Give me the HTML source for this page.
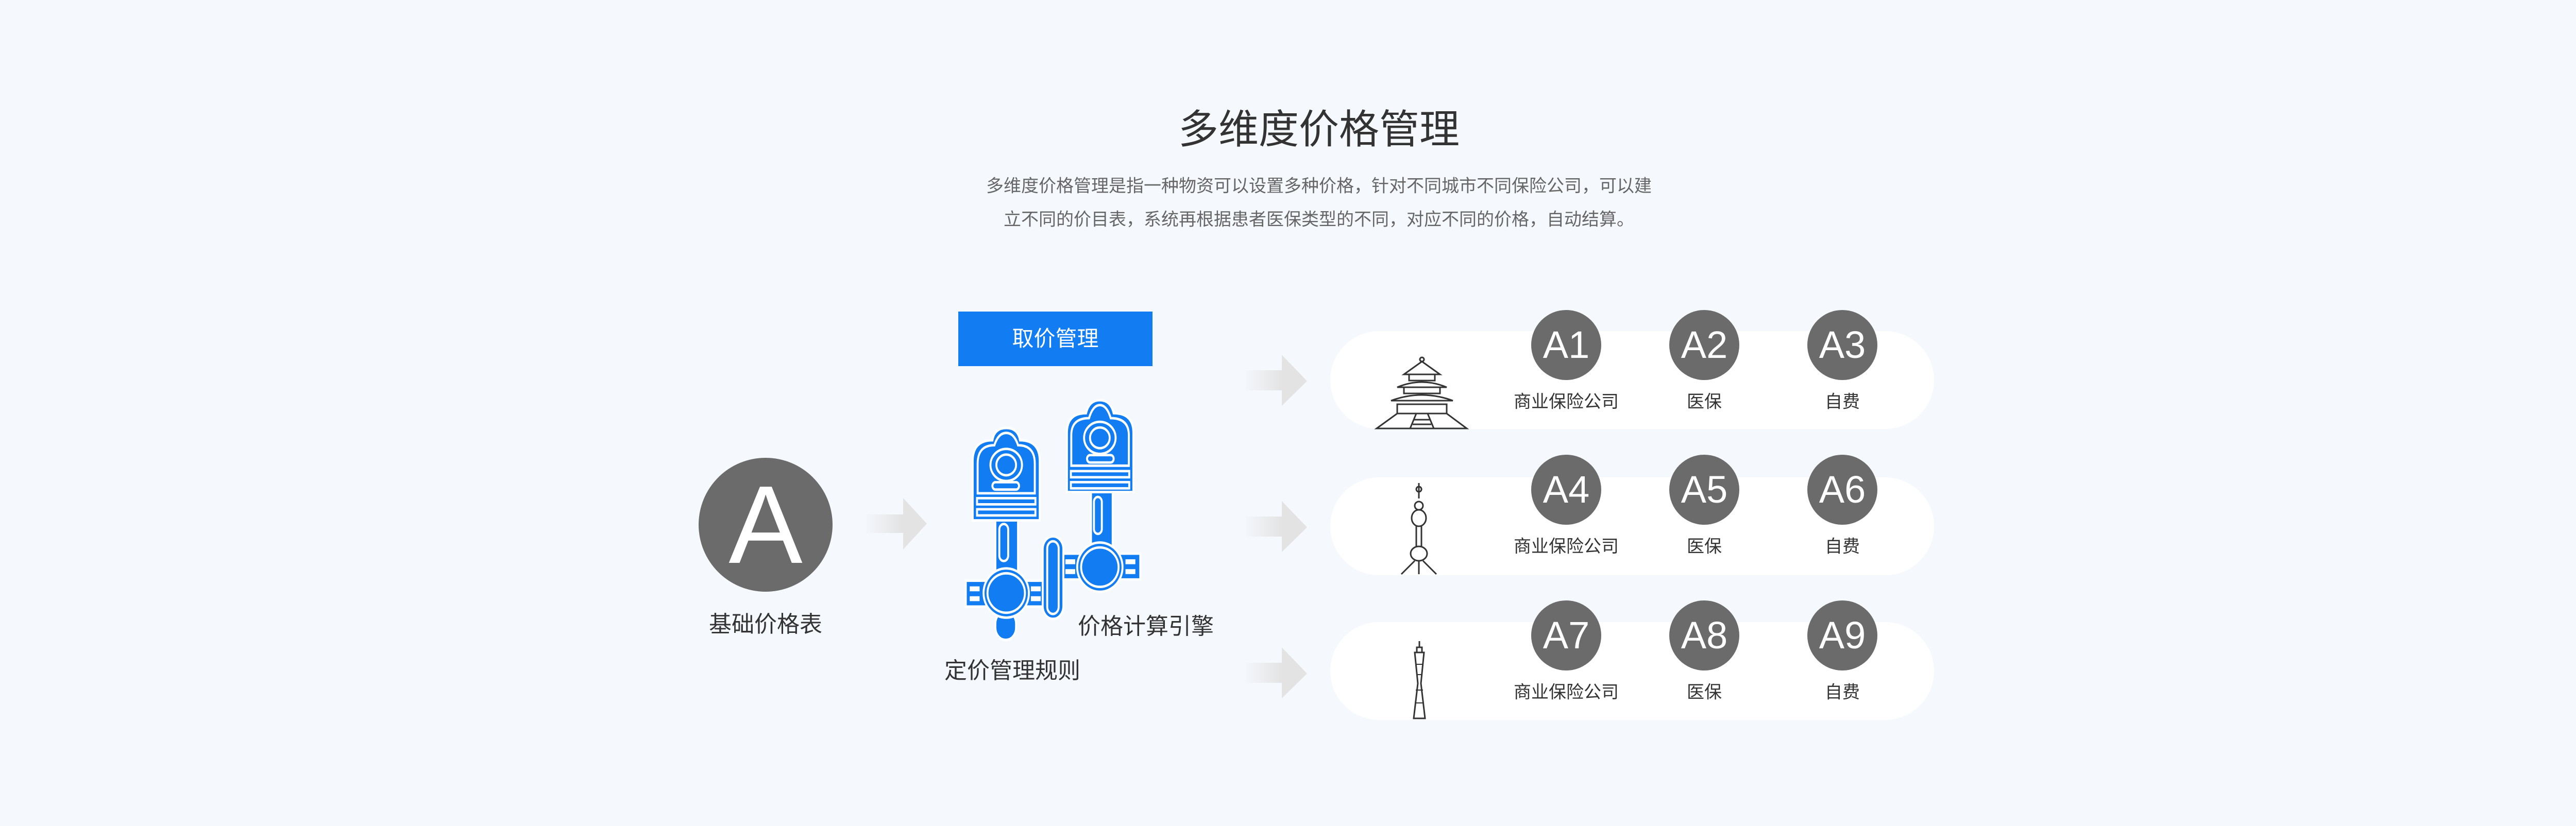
<!DOCTYPE html>
<html><head><meta charset="utf-8"><style>
*{margin:0;padding:0;box-sizing:border-box}
body{width:5120px;height:1604px;background:#f5f9fe;position:relative;overflow:hidden;font-family:"Liberation Sans","Noto Sans CJK SC",sans-serif;color:#333}
.abs{position:absolute}
.t{white-space:nowrap;transform:translate(-50%,-50%)}
.pill{position:absolute;left:2582px;width:1172px;height:190px;border-radius:95px;background:#fff}
.c{position:absolute;width:136px;height:136px;border-radius:50%;background:#6b6b6b;color:#fff;font-size:74px;text-align:center;line-height:136px;font-weight:300}
.lb{position:absolute;font-size:34px;color:#333;white-space:nowrap;transform:translate(-50%,-50%)}
.arr{position:absolute;width:122px;height:100px}
</style></head><body>
<div class="abs t" style="left:2560px;top:245px;font-size:78px;color:#333">多维度价格管理</div>
<div class="abs t" style="left:2560px;top:358px;font-size:34px;color:#666">多维度价格管理是指一种物资可以设置多种价格，针对不同城市不同保险公司，可以建</div>
<div class="abs t" style="left:2560px;top:423px;font-size:34px;color:#666">立不同的价目表，系统再根据患者医保类型的不同，对应不同的价格，自动结算。</div>

<div class="abs" style="left:1860px;top:605px;width:377px;height:106px;background:#127cf2;color:#fff;font-size:42px;text-align:center;line-height:106px">取价管理</div>

<div class="abs" style="left:1356px;top:889px;width:260px;height:260px;border-radius:50%;background:#6b6b6b;color:#fff;font-size:215px;text-align:center;line-height:260px;font-weight:300">A</div>
<div class="abs t" style="left:1486px;top:1208px;font-size:44px">基础价格表</div>

<svg class="abs" style="left:0;top:0" width="5120" height="1604">
<defs><linearGradient id="g" x1="0" x2="1"><stop offset="0" stop-color="#e3e3e3" stop-opacity="0.1"/><stop offset="0.6" stop-color="#e3e3e3"/></linearGradient></defs>
<g fill="url(#g)">
<path d="M1681,999h72v-32l46,50-46,50v-32h-72z"/>
<path d="M2418,719h70v-30l49,51-49,48v-30h-70z"/>
<path d="M2418,1003h70v-30l49,51-49,48v-30h-70z"/>
<path d="M2418,1287h70v-30l49,51-49,48v-30h-70z"/>
</g>
</svg>

<div class="pill" style="top:643px"></div>
<div class="pill" style="top:927px"></div>
<div class="pill" style="top:1208px"></div>

<svg class="abs" style="left:0;top:0" width="5120" height="1604" fill="none" stroke="#333" stroke-width="3">
<!-- temple -->
<circle cx="2760" cy="698" r="4"/>
<path d="M2760,702 L2725,727 h70 z"/>
<rect x="2735" y="727" width="50" height="12"/>
<path d="M2712,752 q48,-20 96,0 z"/>
<rect x="2725" y="752" width="70" height="12"/>
<path d="M2700,778 q60,-22 120,0 z"/>
<rect x="2712" y="785" width="96" height="18"/>
<path d="M2672,832 L2712,803 h96 L2847,832 z"/>
<path d="M2737,832 l12,-29 h22 l12,29 M2745,815 h30 M2742,824 h36"/>
<!-- pearl tower -->
<path d="M2754,938 v30 M2754,955 a5,5 0 1,1 0.1,0"/>
<circle cx="2754" cy="982" r="8"/>
<ellipse cx="2754" cy="1006" rx="14" ry="16"/>
<path d="M2749,1022 v40 M2759,1022 v40"/>
<ellipse cx="2754" cy="1075" rx="16" ry="14"/>
<path d="M2746,1089 l-26,26 M2762,1089 l26,26 M2754,1089 v26"/>
<!-- canton tower -->
<path d="M2755,1245 v12 M2750,1257 h10 v10 h-10z M2746,1267 h18 l-6,60 l8,68 h-22 l8,-68 z"/>
<path d="M2748,1290 h14 M2749,1310 h12 M2748,1340 h14 M2746,1365 h18" stroke-width="2"/>
</svg>

<div class="c" style="left:2972px;top:602px">A1</div><div class="c" style="left:3240px;top:602px">A2</div><div class="c" style="left:3508px;top:602px">A3</div>
<div class="c" style="left:2972px;top:883px">A4</div><div class="c" style="left:3240px;top:883px">A5</div><div class="c" style="left:3508px;top:883px">A6</div>
<div class="c" style="left:2972px;top:1166px">A7</div><div class="c" style="left:3240px;top:1166px">A8</div><div class="c" style="left:3508px;top:1166px">A9</div>
<div class="lb" style="left:3040px;top:777px">商业保险公司</div><div class="lb" style="left:3308px;top:777px">医保</div><div class="lb" style="left:3576px;top:777px">自费</div>
<div class="lb" style="left:3040px;top:1058px">商业保险公司</div><div class="lb" style="left:3308px;top:1058px">医保</div><div class="lb" style="left:3576px;top:1058px">自费</div>
<div class="lb" style="left:3040px;top:1341px">商业保险公司</div><div class="lb" style="left:3308px;top:1341px">医保</div><div class="lb" style="left:3576px;top:1341px">自费</div>

<!-- engine -->
<svg class="abs" style="left:1800px;top:580px" width="600" height="750" viewBox="0 0 1568 1568" preserveAspectRatio="none">
<g fill="#127cf2" stroke="#fff" stroke-width="10">
<!-- left piston -->
<rect x="345" y="1270" width="105" height="115" rx="50"/>
<rect x="345" y="895" width="115" height="230"/>
<rect x="365" y="915" width="45" height="150" rx="22"/>
<rect x="195" y="1145" width="395" height="105"/>
<ellipse cx="400" cy="1195" rx="115" ry="100"/>
<ellipse cx="400" cy="1195" rx="95" ry="80"/>
<path d="M230,900 V660 Q230,575 330,575 Q340,525 400,525 Q460,525 470,575 Q570,575 570,660 V900 Z"/>
<path d="M255,790 V670 Q255,595 340,595 Q360,545 400,545 Q440,545 460,595 Q545,595 545,670 V790 Z"/>
<ellipse cx="400" cy="675" rx="80" ry="65"/><ellipse cx="400" cy="675" rx="50" ry="42"/>
<rect x="330" y="745" width="135" height="30" rx="15"/>
<rect x="252" y="810" width="296" height="25"/><rect x="252" y="855" width="296" height="25"/>
<rect x="585" y="965" width="105" height="335" rx="52"/>
<rect x="608" y="985" width="58" height="295" rx="29"/>
<!-- right piston -->
<rect x="830" y="785" width="110" height="230"/>
<rect x="845" y="805" width="40" height="150" rx="20"/>
<rect x="690" y="1035" width="390" height="105"/>
<ellipse cx="875" cy="1090" rx="115" ry="100"/>
<ellipse cx="875" cy="1090" rx="95" ry="80"/>
<path d="M708,785 V545 Q708,465 805,465 Q820,412 875,412 Q930,412 945,465 Q1045,465 1045,545 V785 Z"/>
<path d="M730,678 V555 Q730,485 820,485 Q840,432 875,432 Q910,432 930,485 Q1022,485 1022,555 V678 Z"/>
<ellipse cx="875" cy="565" rx="80" ry="65"/><ellipse cx="875" cy="565" rx="50" ry="42"/>
<rect x="810" y="635" width="135" height="30" rx="15"/>
<rect x="728" y="700" width="296" height="25"/><rect x="728" y="745" width="296" height="25"/>
</g>
<g fill="#fff">
<rect x="215" y="1168" width="50" height="20"/><rect x="215" y="1208" width="50" height="20"/>
<rect x="525" y="1168" width="50" height="20"/><rect x="525" y="1208" width="50" height="20"/>
<rect x="700" y="1058" width="50" height="20"/><rect x="700" y="1098" width="50" height="20"/>
<rect x="1005" y="1058" width="50" height="20"/><rect x="1005" y="1098" width="50" height="20"/>
</g>
</svg>
<div class="abs t" style="left:2224px;top:1212px;font-size:44px">价格计算引擎</div>
<div class="abs t" style="left:1965px;top:1298px;font-size:44px">定价管理规则</div>
</body></html>
